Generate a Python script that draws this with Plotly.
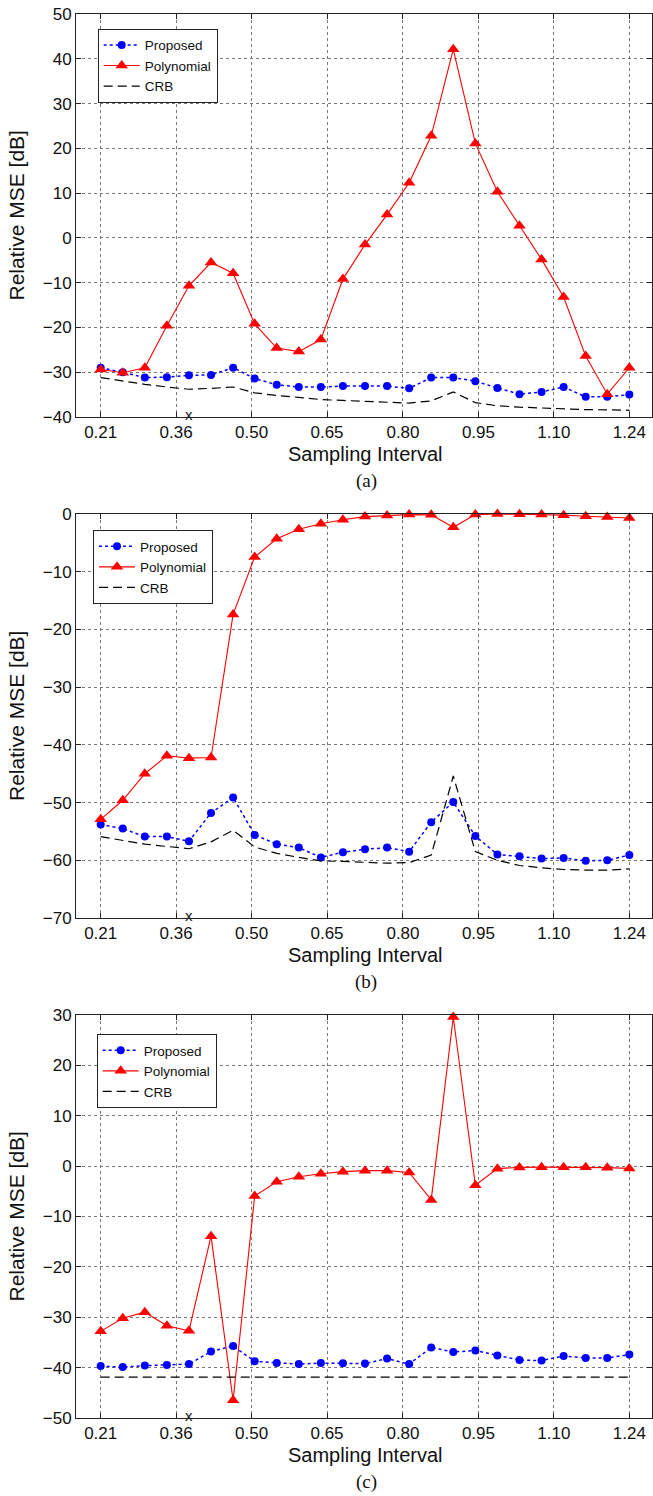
import plotly.graph_objects as go

# ---------------- data ----------------
x_vals = [0.210, 0.253, 0.296, 0.339, 0.382, 0.425, 0.468, 0.510, 0.553, 0.596,
          0.639, 0.682, 0.725, 0.768, 0.811, 0.854, 0.897, 0.940, 0.983, 1.026,
          1.069, 1.112, 1.155, 1.197, 1.240]
tick_vals = [0.210, 0.357, 0.504, 0.651, 0.799, 0.946, 1.093, 1.240]
tick_text = ["0.21", "0.36", "0.50", "0.65", "0.80", "0.95", "1.10", "1.24"]

# panel (a)
prop_a = [-29.0, -30.0, -31.2, -31.1, -30.7, -30.6, -29.0, -31.4, -32.8, -33.3,
          -33.3, -33.1, -33.1, -33.1, -33.6, -31.2, -31.2, -32.0, -33.5, -34.9,
          -34.4, -33.3, -35.5, -35.5, -35.0]
poly_a = [-29.4, -30.1, -29.0, -19.6, -10.7, -5.5, -7.9, -19.2, -24.6, -25.4,
          -22.7, -9.2, -1.5, 5.2, 12.3, 22.8, 42.1, 21.1, 10.3, 2.7,
          -4.8, -13.2, -26.4, -34.9, -29.0]
crb_a = [-31.2, -32.0, -32.7, -33.3, -33.8, -33.6, -33.3, -34.6, -35.2, -35.6,
         -36.1, -36.3, -36.5, -36.8, -36.9, -36.4, -34.4, -36.8, -37.5, -37.8,
         -38.0, -38.2, -38.35, -38.4, -38.5]

# panel (b)
prop_b = [-53.8, -54.5, -55.9, -55.9, -56.7, -51.8, -49.1, -55.6, -57.2, -57.8,
          -59.5, -58.6, -58.1, -57.8, -58.5, -53.4, -49.9, -55.8, -59.0, -59.3,
          -59.7, -59.6, -60.1, -60.0, -59.1]
poly_b = [-52.9, -49.6, -45.0, -41.9, -42.3, -42.2, -17.4, -7.45, -4.3, -2.65,
          -1.7, -1.0, -0.45, -0.25, -0.1, -0.15, -2.3, -0.1, 0.0, -0.05,
          -0.1, -0.2, -0.4, -0.5, -0.7]
crb_b = [-55.9, -56.6, -57.2, -57.6, -58.0, -56.8, -54.8, -57.7, -58.8, -59.5,
         -60.1, -60.2, -60.4, -60.5, -60.4, -59.1, -45.4, -58.5, -60.0, -60.9,
         -61.3, -61.6, -61.7, -61.7, -61.5]

# panel (c)
prop_c = [-39.7, -39.9, -39.6, -39.5, -39.3, -36.8, -35.7, -38.75, -39.1, -39.3,
          -39.1, -39.15, -39.2, -38.2, -39.3, -36.0, -36.9, -36.6, -37.6, -38.5,
          -38.6, -37.7, -38.1, -38.1, -37.4]
poly_c = [-32.8, -30.2, -29.0, -31.7, -32.7, -13.9, -46.5, -5.95, -3.1, -2.1,
          -1.5, -1.1, -0.9, -0.9, -1.25, -6.7, 29.6, -3.8, -0.5, -0.25,
          -0.2, -0.2, -0.2, -0.3, -0.45]
crb_c = [-41.9, -41.9, -41.9, -41.9, -41.9, -41.9, -41.9, -41.9, -41.9, -41.9,
         -41.9, -41.9, -41.9, -41.9, -41.9, -41.9, -41.9, -41.9, -41.9, -41.9,
         -41.9, -41.9, -41.9, -41.9, -41.9]

y_ranges = [[-40, 50], [-70, 0], [-50, 30]]
captions = ["(a)", "(b)", "(c)"]
series_names = ["Proposed", "Polynomial", "CRB"]
x_marker_at = 0.382

# ---------------- layout geometry ----------------
W, H = 653, 1496
ML, MR, MT, MB = 76, 1, 14, 78
plot_h = H - MT - MB  # 1404
panel_px = [(14, 417), (514, 918), (1015, 1418)]


def py(pix):
    return (H - MB - pix) / plot_h


domains = [[py(b), py(t)] for (t, b) in panel_px]

FONT = "Liberation Sans, Arial, sans-serif"

fig = go.Figure()

panels = [(prop_a, poly_a, crb_a), (prop_b, poly_b, crb_b), (prop_c, poly_c, crb_c)]
legend_ids = ["legend", "legend2", "legend3"]

for k, (pr, po, cr) in enumerate(panels):
    xa = "x" if k == 0 else f"x{k+1}"
    ya = "y" if k == 0 else f"y{k+1}"
    lg = legend_ids[k]
    fig.add_trace(go.Scatter(
        x=x_vals, y=pr, name=series_names[0], mode="lines+markers",
        line=dict(color="#0000ff", width=1.5, dash="dot"),
        marker=dict(symbol="circle", size=8, color="#0000ff"),
        xaxis=xa, yaxis=ya, legend=lg, cliponaxis=False))
    fig.add_trace(go.Scatter(
        x=x_vals, y=po, name=series_names[1], mode="lines+markers",
        line=dict(color="#ff0000", width=1.1),
        marker=dict(symbol="triangle-up", size=11, color="#ff0000"),
        xaxis=xa, yaxis=ya, legend=lg, cliponaxis=False))
    fig.add_trace(go.Scatter(
        x=x_vals, y=cr, name=series_names[2], mode="lines",
        line=dict(color="#000000", width=1.2, dash="9px,5px"),
        xaxis=xa, yaxis=ya, legend=lg, cliponaxis=False))

axis_common = dict(
    showline=True, linecolor="#222", linewidth=1, mirror="ticks",
    ticks="inside", ticklen=5, tickcolor="#222",
    showgrid=True, gridcolor="#777", gridwidth=1, griddash="dot",
    zeroline=False, tickfont=dict(family=FONT, size=17, color="#111"),
)

layout = dict(
    width=W, height=H,
    margin=dict(l=ML, r=MR, t=MT, b=MB, pad=0),
    paper_bgcolor="white", plot_bgcolor="white",
    font=dict(family=FONT, color="#111"),
    showlegend=True,
)

leg_pos = [(97.7, 28.7), (93.0, 530.0), (96.7, 1034.0)]
annotations = []
for k in range(3):
    sx = "" if k == 0 else str(k + 1)
    layout[f"xaxis{sx}"] = dict(
        axis_common, domain=[0, 1], range=[0.1619, 1.2842],
        tickmode="array", tickvals=tick_vals, ticktext=tick_text,
        anchor=f"y{sx}")
    layout[f"yaxis{sx}"] = dict(
        axis_common, domain=domains[k], range=y_ranges[k], dtick=10,
        anchor=f"x{sx}")
    lx, ly = leg_pos[k]
    layout[legend_ids[k]] = dict(
        x=(lx - ML) / (W - ML - MR), y=py(ly), xanchor="left", yanchor="top",
        bgcolor="white", bordercolor="#222", borderwidth=1,
        font=dict(family=FONT, size=13.5, color="#111"),
        tracegroupgap=0, itemwidth=36)
    t, b = panel_px[k]
    # y-axis title
    annotations.append(dict(
        text="Relative MSE [dB]", textangle=-90, showarrow=False,
        xref="paper", yref="paper", x=(16 - ML) / (W - ML - MR),
        y=py((t + b) / 2), xanchor="center", yanchor="middle",
        font=dict(family=FONT, size=21, color="#111")))
    # x-axis title
    annotations.append(dict(
        text="Sampling Interval", showarrow=False,
        xref="paper", yref="paper", x=(365 - ML) / (W - ML - MR),
        y=py(b + 37), xanchor="center", yanchor="middle",
        font=dict(family=FONT, size=20, color="#111")))
    # caption
    annotations.append(dict(
        text=captions[k], showarrow=False,
        xref="paper", yref="paper", x=(366 - ML) / (W - ML - MR),
        y=py(b + 64), xanchor="center", yanchor="middle",
        font=dict(family="Liberation Serif, Times New Roman, serif", size=19, color="#111")))
    # small "x" mark on the bottom axis
    annotations.append(dict(
        text="x", showarrow=False,
        xref=f"x{sx}", yref=f"y{sx}", x=x_marker_at, y=y_ranges[k][0],
        xanchor="center", yanchor="middle", yshift=3, borderpad=0,
        font=dict(family=FONT, size=15, color="#222")))

layout["annotations"] = annotations
fig.update_layout(**layout)

fig.write_html("out.html")
